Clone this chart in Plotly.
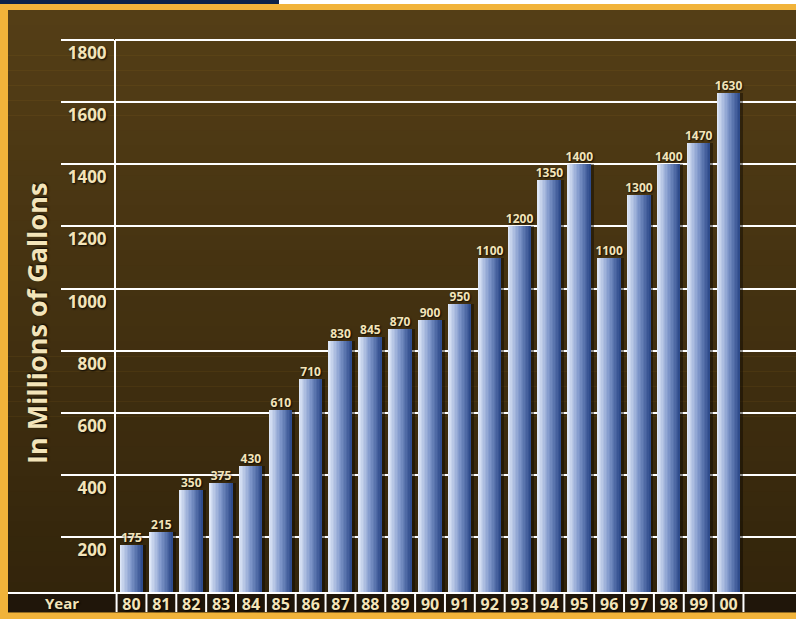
import plotly.graph_objects as go

# ---------------- data ----------------
years = ["80", "81", "82", "83", "84", "85", "86", "87", "88", "89", "90",
         "91", "92", "93", "94", "95", "96", "97", "98", "99", "00"]
gallons = [175, 215, 350, 375, 430, 610, 710, 830, 845, 870, 900,
           950, 1100, 1200, 1350, 1400, 1100, 1300, 1400, 1470, 1630]
y_ticks = [200, 400, 600, 800, 1000, 1200, 1400, 1600, 1800]
y_title = "In Millions of Gallons"
x_title = "Year"

# ---------------- styling ----------------
W, H = 796, 619
L, R, T, B = 115, 0, 37, 27
PW, PH = W - L - R, H - T - B
CREAM = "#f3e4b9"
GOLD = "#f1b33a"
NAVY = "#0b2249"
ROW = "#20160a"
FONT = "Open Sans"
SHADOW = "1px 1px 2px rgba(0,0,0,0.9)"

def px(x):
    return (x - L) / PW

def py(y):
    return (H - B - y) / PH

xs = list(range(len(years)))
bw = 0.77
N = 16
light = (222, 231, 247)
mid = (128, 152, 203)
dark = (47, 76, 140)

def lerp(a, b, t):
    return tuple(round(a[k] + (b[k] - a[k]) * t) for k in range(3))

fig = go.Figure()

# bar drop shadow
fig.add_trace(go.Bar(x=xs, y=gallons, width=bw, offset=-bw / 2 + 0.1,
                     marker=dict(color="rgba(10,6,0,0.45)", line=dict(width=0)),
                     hoverinfo="skip", showlegend=False))
# gradient bars made of thin slices
for i in range(N):
    t = i / (N - 1)
    c = lerp(light, mid, t / 0.5) if t < 0.5 else lerp(mid, dark, (t - 0.5) / 0.5)
    fig.add_trace(go.Bar(x=xs, y=gallons, width=bw / N * 1.05,
                         offset=-bw / 2 + i * bw / N,
                         marker=dict(color="rgb(%d,%d,%d)" % c, line=dict(width=0)),
                         hoverinfo="skip", showlegend=False))
# value labels
fig.add_trace(go.Scatter(x=xs, y=gallons, mode="text", text=[str(v) for v in gallons],
                         textposition="top center",
                         textfont=dict(family=FONT, size=12, color=CREAM, weight="bold",
                                       shadow=SHADOW),
                         hoverinfo="skip", showlegend=False))

shapes = []
# frame & background
shapes.append(dict(type="rect", xref="paper", yref="paper", x0=px(0), x1=px(W), y0=py(0), y1=py(H),
                   fillcolor=GOLD, line=dict(width=0), layer="below"))
# soft vertical tonal gradient for the brown backdrop
top_c = (84, 62, 22)
bot_c = (50, 36, 11)
strips = 40
for k in range(strips):
    y0 = 10 + (612 - 10) * k / strips
    y1 = 10 + (612 - 10) * (k + 1) / strips
    c = lerp(top_c, bot_c, k / (strips - 1))
    shapes.append(dict(type="rect", xref="paper", yref="paper", x0=px(8), x1=px(W),
                       y0=py(y0), y1=py(y1 + 0.5),
                       fillcolor="rgb(%d,%d,%d)" % c, line=dict(width=0), layer="below"))
shapes.append(dict(type="rect", xref="paper", yref="paper", x0=px(0), x1=px(279), y0=py(0), y1=py(4),
                   fillcolor=NAVY, line=dict(width=0), layer="below"))
shapes.append(dict(type="rect", xref="paper", yref="paper", x0=px(279), x1=px(W), y0=py(0), y1=py(4),
                   fillcolor="white", line=dict(width=0), layer="below"))
# year row
shapes.append(dict(type="rect", xref="paper", yref="paper", x0=px(8), x1=px(W), y0=py(593), y1=py(612),
                   fillcolor=ROW, line=dict(width=0), layer="below"))
shapes.append(dict(type="line", xref="paper", yref="paper", x0=px(8), x1=px(W), y0=py(593), y1=py(593),
                   line=dict(color="white", width=2), layer="above"))
for i in range(len(years) + 1):
    shapes.append(dict(type="line", xref="x", yref="paper", x0=i - 0.5, x1=i - 0.5,
                       y0=py(593), y1=py(612), line=dict(color="white", width=2), layer="above"))

annotations = [
    dict(text=x_title, xref="paper", yref="paper", x=px(62), y=py(603), showarrow=False,
         xanchor="center", yanchor="middle",
         font=dict(family=FONT, size=15, color=CREAM, weight="bold", shadow=SHADOW)),
    dict(text=y_title, xref="paper", yref="paper", x=px(36), y=py(324), showarrow=False,
         textangle=-90, xanchor="center", yanchor="middle",
         font=dict(family=FONT, size=27, color=CREAM, weight="bold", shadow=SHADOW)),
]

fig.update_layout(
    width=W, height=H,
    margin=dict(l=L, r=R, t=T, b=B, pad=0),
    paper_bgcolor=GOLD, plot_bgcolor="rgba(0,0,0,0)",
    barmode="overlay", bargap=0,
    shapes=shapes, annotations=annotations,
    xaxis=dict(range=[-0.553, 22.26], tickmode="array", tickvals=xs, ticktext=years,
               showgrid=False, zeroline=False, showline=False, ticks="",
               tickfont=dict(family=FONT, size=16, color=CREAM, weight="bold", shadow=SHADOW),
               ticklabelstandoff=1, fixedrange=True),
    yaxis=dict(range=[23, 1810], tickmode="array", tickvals=y_ticks,
               showgrid=True, gridcolor="white", gridwidth=2, zeroline=False,
               showline=False,
               ticks="outside", ticklen=53, tickcolor="white", tickwidth=2,
               ticklabelshift=13, ticklabelstandoff=-49,
               tickfont=dict(family=FONT, size=17, color=CREAM, weight="bold", shadow=SHADOW),
               fixedrange=True),
    showlegend=False,
)
# y axis line from the 1800 gridline down to the year row
shapes_extra = [dict(type="line", xref="paper", yref="y", x0=0, x1=0, y0=23, y1=1800,
                     line=dict(color="white", width=2), layer="above")]
fig.update_layout(shapes=shapes + shapes_extra)

fig.write_html("out.html")
